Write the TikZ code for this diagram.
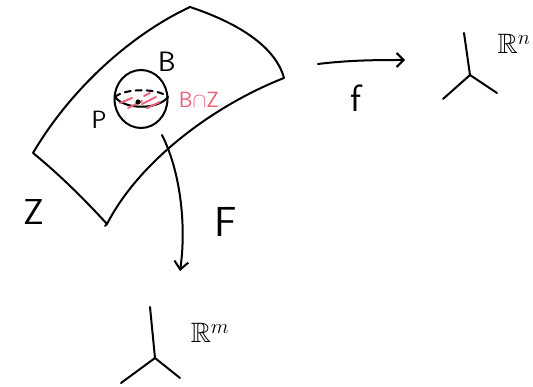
\documentclass[tikz,border=0pt]{standalone}
\usepackage{amssymb}
\usepackage{fontspec}
\usetikzlibrary{arrows.meta,shapes.geometric}
\definecolor{pinkish}{HTML}{E8607A}
\begin{document}
\begin{tikzpicture}[x=1pt,y=-1pt,line cap=round,line join=round,
  ink/.style={line width=2pt,black},
  lbl/.style={inner sep=0pt},
  hatch/.style={line width=2pt,pinkish}]
\useasboundingbox (0,0) rectangle (533,387);
% surface Z
\coordinate (tl) at (33,153);
\coordinate (tt) at (190,7);
\coordinate (tr) at (284,78);
\coordinate (bb) at (107,224);
\draw[ink] (tl) .. controls (70,90) and (130,35) .. (tt)
  .. controls (235,22) and (275,45) .. (tr)
  .. controls (215,105) and (140,160) .. (bb)
  .. controls (85,200) and (60,175) .. (tl);
\draw[ink] (bb) -- (105,226);
% ball B
\node[ink,draw,ellipse,minimum width=53pt,minimum height=58pt,inner sep=0pt] (ball) at (141,99) {};
\draw[ink] (115,97) .. controls (125,110) and (158,110) .. (168,97);
\draw[ink,dash pattern=on 6pt off 5pt] (115,97) .. controls (125,88) and (158,88) .. (168,97);
% hatch
\draw[hatch] (120,103) -- (132,98);
\draw[hatch] (128,108) -- (142,101);
\draw[hatch] (142,104) -- (156,97);
\draw[hatch] (147,108) -- (160,102);
\draw[hatch] (144,96) -- (150,93);
\fill (138,102) circle (2.6pt) coordinate (p);
% labels
\node[lbl,font=\sffamily\fontsize{28}{28}\selectfont] (B) at (167,62) {B};
\node[lbl,font=\sffamily\fontsize{25}{25}\selectfont] (P) at (99,120) {P};
\node[lbl,font=\sffamily\fontsize{22}{22}\selectfont,text=pinkish] (BZ) at (199,100) {B$\cap$Z};
\node[lbl,font=\sffamily\fontsize{36}{36}\selectfont] (Z) at (34,212) {Z};
\node[lbl,font=\sffamily\fontsize{42}{42}\selectfont] (F) at (226,222) {F};
\node[lbl,font=\sffamily\fontsize{38}{38}\selectfont] (f) at (356,98) {f};
% arrow f
\coordinate (fa) at (318,64);
\coordinate (fb) at (405,60);
\draw[ink,-{Straight Barb[length=7pt,width=14pt]}] (fa) .. controls (350,60) and (380,60) .. (fb);
% arrow F
\coordinate (Fa) at (162,135);
\coordinate (Fb) at (180,271);
\draw[ink,-{Straight Barb[length=8pt,width=14pt]}] (Fa) .. controls (182,175) and (186,230) .. (Fb);
% axes top right
\coordinate (o1) at (470,75);
\draw[ink] (464,33) -- (o1);
\draw[ink] (o1) -- (443,99);
\draw[ink] (o1) -- (497,93);
\node[lbl,font=\fontsize{28}{28}\selectfont] (Rn) at (514,44) {$\mathbb{R}^n$};
% axes bottom
\coordinate (o2) at (155,358);
\draw[ink] (150,307) -- (o2);
\draw[ink] (o2) -- (121,383);
\draw[ink] (o2) -- (180,378);
\node[lbl,font=\fontsize{28}{28}\selectfont] (Rm) at (210,333) {$\mathbb{R}^m$};
\end{tikzpicture}
\end{document}
